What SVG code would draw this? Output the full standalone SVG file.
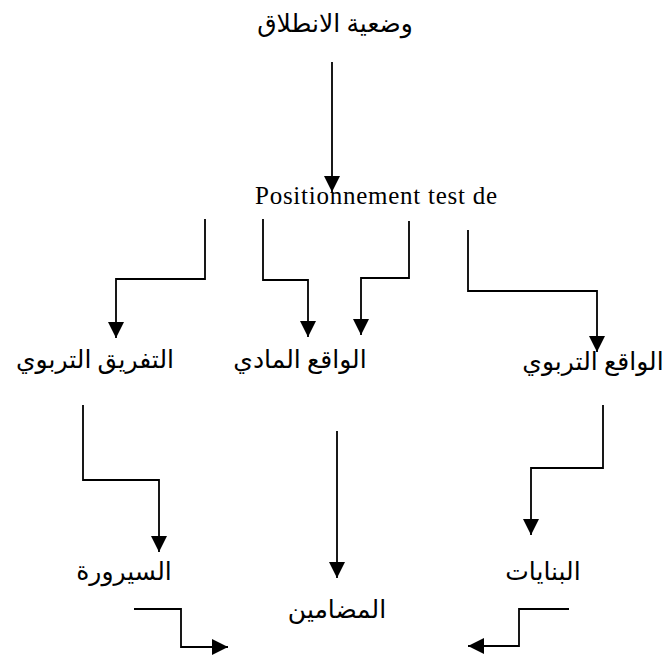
<svg xmlns="http://www.w3.org/2000/svg" width="670" height="660" viewBox="0 0 670 660">
<defs>
<marker id="ah" markerUnits="userSpaceOnUse" markerWidth="18" markerHeight="18" refX="16" refY="8" orient="auto" viewBox="0 0 18 18">
<path d="M0,0 L16,8 L0,16 z" fill="#000"/>
</marker>
<style>
.ar{font-family:"Liberation Serif","DejaVu Sans",serif;font-size:25px;fill:#000;text-anchor:middle;direction:rtl}
.fr{font-family:"Liberation Serif",serif;font-size:25px;fill:#000}
.c{fill:none;stroke:#000;stroke-width:1.8;marker-end:url(#ah)}
</style>
</defs>
<rect width="670" height="660" fill="#fff"/>
<g id="connectors">
<path class="c" d="M332,62 V192"/>
<path class="c" d="M205,219 V279 H116 V338"/>
<path class="c" d="M263,219 V280 H308 V337"/>
<path class="c" d="M409,221 V278 H361 V335"/>
<path class="c" d="M468,230 V291 H597 V352"/>
<path class="c" d="M83,405 V480 H159 V552"/>
<path class="c" d="M337,431 V578"/>
<path class="c" d="M603,405 V468 H531 V535"/>
<path class="c" d="M134,609 H181 V647 H228"/>
<path class="c" d="M569,609 H519 V646 H468"/>
</g>
<g id="n-start"><text class="ar" x="335" y="32">وضعية الانطلاق</text></g>
<g id="n-test"><text class="fr" x="255" y="204" textLength="242" lengthAdjust="spacing">Positionnement test de</text></g>
<g id="n-tafriq"><text class="ar" x="95" y="368">التفريق التربوي</text></g>
<g id="n-madi"><text class="ar" x="300" y="368">الواقع المادي</text></g>
<g id="n-tarbawi"><text class="ar" x="593" y="370">الواقع التربوي</text></g>
<g id="n-sayrura"><text class="ar" x="124" y="580">السيرورة</text></g>
<g id="n-binayat"><text class="ar" x="543" y="580">البنايات</text></g>
<g id="n-madamin"><text class="ar" x="337" y="618">المضامين</text></g>
</svg>
